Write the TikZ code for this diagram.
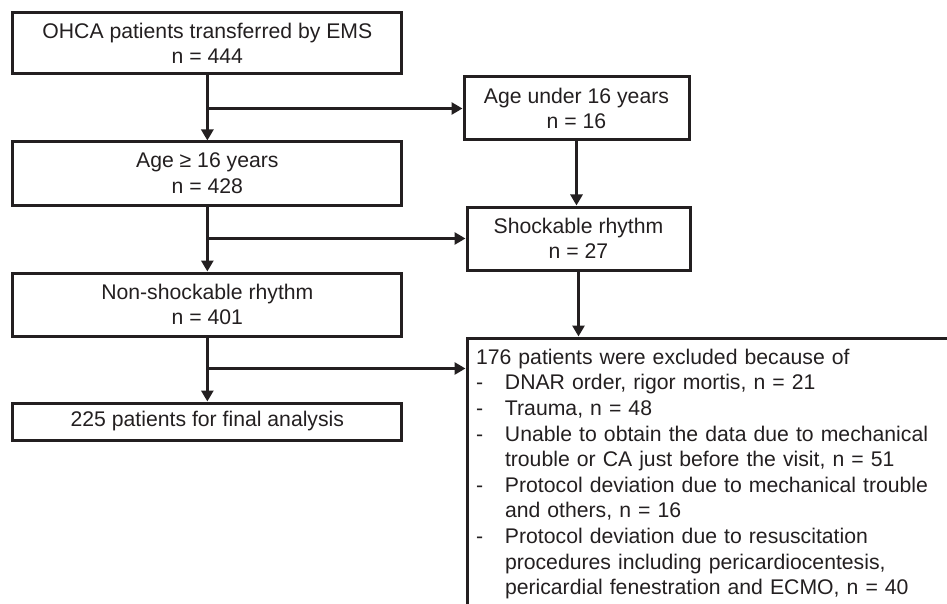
\documentclass[tikz,border=0pt]{standalone}
\usepackage{fontspec}
\setmainfont{Liberation Sans}
\usetikzlibrary{arrows.meta}
\definecolor{ink}{RGB}{35,31,32}
\begin{document}
\begin{tikzpicture}[x=1pt,y=-1pt,
  txt/.style={font=\fontsize{21.2}{25.6}\selectfont, text=ink},
  box/.style={txt, draw=ink, line width=3pt, inner sep=0pt, align=center, minimum width=389pt},
  sbox/.style={box, minimum width=225pt, minimum height=63pt},
  arr/.style={draw=ink, line width=3pt, -{Triangle[length=11pt,width=12pt]}}]
\useasboundingbox (0,0) rectangle (947,604);
\node[box, minimum height=61pt] (b1) at (207.35,43.35) {OHCA patients transferred by EMS\\n = 444};
\node[sbox] (b2) at (576.5,108.5) {Age under 16 years\\n = 16};
\node[box, minimum height=63pt] (b3) at (207.35,173.5) {Age ≥ 16 years\\n = 428};
\node[sbox, minimum width=223pt] (b4) at (578.5,238.5) {Shockable rhythm\\n = 27};
\node[box, minimum height=63pt] (b5) at (207.35,304.5) {Non-shockable rhythm\\n = 401};
\node[box, minimum height=37pt] (b7) at (207.35,421.5) {225 patients for final analysis};
\node[txt, draw=ink, line width=3pt, anchor=north west, inner xsep=9pt, inner ysep=11pt,
      align=left, text width=540pt] (ex) at (465.5,336.5) {%
176 patients were excluded because of\\
\makebox[29pt][l]{-}DNAR order, rigor mortis, n = 21\\
\makebox[29pt][l]{-}Trauma, n = 48\\
\makebox[29pt][l]{-}Unable to obtain the data due to mechanical\\
\hspace*{29pt}trouble or CA just before the visit, n = 51\\
\makebox[29pt][l]{-}Protocol deviation due to mechanical trouble\\
\hspace*{29pt}and others, n = 16\\
\makebox[29pt][l]{-}Protocol deviation due to resuscitation\\
\hspace*{29pt}procedures including pericardiocentesis,\\
\hspace*{29pt}pericardial fenestration and ECMO, n = 40\rule[-40pt]{0pt}{0pt}};
\coordinate (exin) at ([yshift=-32pt]ex.north west);
\draw[arr] (b1.south) -- (b3.north);
\draw[arr] (b1.south |- b2.west) -- (b2.west);
\draw[arr] (b2.south) -- (b2.south |- b4.north);
\draw[arr] (b3.south) -- (b5.north);
\draw[arr] (b3.south |- b4.west) -- (b4.west);
\draw[arr] (b4.south) -- (b4.south |- ex.north);
\draw[arr] (b5.south) -- (b7.north);
\draw[arr] (b5.south |- exin) -- (exin);
\end{tikzpicture}
\end{document}
